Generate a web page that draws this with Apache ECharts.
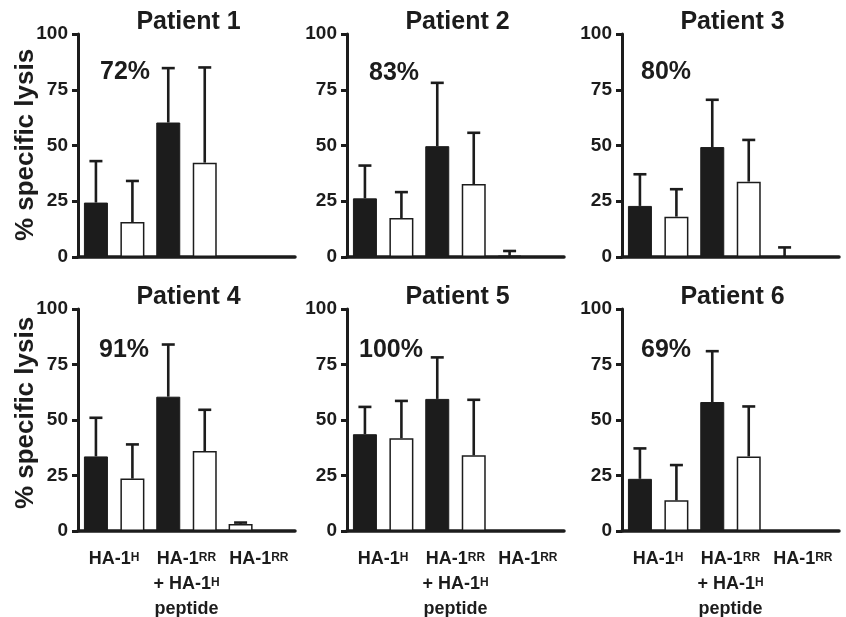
<!DOCTYPE html>
<html><head><meta charset="utf-8">
<script src="https://cdn.jsdelivr.net/npm/echarts@6/dist/echarts.min.js"></script>
<style>html,body{margin:0;padding:0;background:#fff}#c{width:846px;height:617px}</style>
</head><body><div id="c"></div>
<script>
// ---- data ----
const categories = ['HA-1^H', 'HA-1^RR\n+ HA-1^H\npeptide', 'HA-1^RR'];
const patients = ['Patient 1', 'Patient 2', 'Patient 3', 'Patient 4', 'Patient 5', 'Patient 6'];
const lysisPercents = ['72%', '83%', '80%', '91%', '100%', '69%'];
const yTickValues = [0, 25, 50, 75, 100];
const yAxisTitle = '% specific lysis';
// first bar of each pair (filled)
const filledMeans = [
  [24.4, 60.3, 0],
  [26.3, 49.7, 0.6],
  [22.9, 49.3, 0],
  [33.6, 60.5, 3.2],
  [43.6, 59.5, 0],
  [23.5, 58.1, 0]
];
const filledSD = [
  [18.6, 24.4, 0],
  [14.7, 28.4, 2.1],
  [14.2, 21.2, 4.3],
  [17.4, 23.5, 0.6],
  [12.3, 18.7, 0],
  [13.7, 22.9, 0]
];
// second bar of each pair (open)
const openMeans = [
  [15.7, 42.3, 0],
  [17.5, 32.7, 0],
  [18.1, 33.8, 0],
  [23.6, 36.0, 0],
  [41.8, 34.1, 0],
  [13.8, 33.6, 0]
];
const openSD = [
  [18.4, 42.7, 0],
  [11.6, 23.0, 0],
  [12.3, 18.7, 0],
  [15.4, 18.6, 0],
  [16.8, 25.0, 0],
  [15.9, 22.5, 0]
];

// ---- layout / style ----
const INK = '#1c1c1c';
const FONT = '"Liberation Sans", Arial, Helvetica, sans-serif';
const colLeft = [78, 347, 622];
const colWidth = 217;
const rowTop = [34, 309];
const rowHeight = [223, 222];
const BAR_W = 24;
const GAP_RATIO = 0.52;
const BAR_OFFSET = (BAR_W + BAR_W * GAP_RATIO) / 2;
const CAP = 13;
const pctPos = [[125, 72], [394, 73], [666, 72], [124, 350], [391, 350], [666, 350]];
const titleY = [22, 297];
const ylabelPos = [[26, 145], [26, 413]];

function labelRich(v) {
  return v.split('\n').map(line => {
    return line.split(/(\^\w+)/).filter(s => s.length).map(s =>
      s[0] === '^' ? '{s|' + s.slice(1) + '}' : '{m|' + s + '}').join('');
  }).join('\n');
}

const chart = echarts.init(document.getElementById('c'), null, {renderer: 'canvas'});
const grid = [], xAxis = [], yAxis = [], series = [], graphic = [];

function errRender(side) {
  return function (params, api) {
    const cat = api.value(0), m = api.value(1), sd = api.value(2);
    if (!(sd > 0)) return null;
    const b = api.coord([cat, m]);
    const t = api.coord([cat, m + sd]);
    const x = b[0] + side * BAR_OFFSET;
    return {
      type: 'group', children: [
        {type: 'line', shape: {x1: x, y1: b[1], x2: x, y2: t[1]}, style: {stroke: INK, lineWidth: 2.6}},
        {type: 'line', shape: {x1: x - CAP / 2, y1: t[1], x2: x + CAP / 2, y2: t[1]}, style: {stroke: INK, lineWidth: 2.6}}
      ]
    };
  };
}

patients.forEach((name, i) => {
  const col = i % 3, row = Math.floor(i / 3);
  grid.push({left: colLeft[col], top: rowTop[row], width: colWidth, height: rowHeight[row],
    containLabel: false, outerBoundsMode: 'none'});
  xAxis.push({
    type: 'category', gridIndex: i, data: categories,
    axisLine: {lineStyle: {color: INK, width: 3.5}},
    axisTick: {show: false},
    axisLabel: {
      show: row === 1, interval: 0, margin: 16, formatter: labelRich,
      rich: {
        m: {fontFamily: FONT, fontWeight: 'bold', fontSize: 18, color: INK, lineHeight: 25},
        s: {fontFamily: FONT, fontWeight: 'bold', fontSize: 12, color: INK, verticalAlign: 'top', lineHeight: 12, padding: [5, 0, 0, 0]}
      }
    },
    splitLine: {show: false}
  });
  yAxis.push({
    type: 'value', gridIndex: i, min: yTickValues[0], max: yTickValues[yTickValues.length - 1],
    interval: yTickValues[1] - yTickValues[0],
    axisLine: {show: true, lineStyle: {color: INK, width: 3}},
    axisTick: {show: true, length: 6, lineStyle: {color: INK, width: 3}},
    axisLabel: {fontFamily: FONT, fontWeight: 'bold', fontSize: 19, color: INK, margin: 10},
    splitLine: {show: false}
  });
  series.push({
    type: 'bar', xAxisIndex: i, yAxisIndex: i, barWidth: BAR_W, barGap: (GAP_RATIO * 100) + '%',
    data: filledMeans[i].map((v, k) => ({
      value: v,
      itemStyle: k === 2 ? {color: '#fff', borderColor: INK, borderWidth: 1.5} : {color: INK, borderColor: INK, borderWidth: 1}
    })),
    z: 2, silent: true
  });
  series.push({
    type: 'bar', xAxisIndex: i, yAxisIndex: i, barWidth: BAR_W, barGap: (GAP_RATIO * 100) + '%',
    data: openMeans[i],
    itemStyle: {color: '#fff', borderColor: INK, borderWidth: 1.5},
    z: 2, silent: true
  });
  series.push({
    type: 'custom', xAxisIndex: i, yAxisIndex: i, z: 3, silent: true,
    renderItem: errRender(-1), encode: {x: 0, y: 1},
    data: filledMeans[i].map((v, k) => [k, v, filledSD[i][k]])
  });
  series.push({
    type: 'custom', xAxisIndex: i, yAxisIndex: i, z: 3, silent: true,
    renderItem: errRender(1), encode: {x: 0, y: 1},
    data: openMeans[i].map((v, k) => [k, v, openSD[i][k]])
  });
  graphic.push({
    type: 'text', x: colLeft[col] + colWidth / 2 + 2, y: titleY[row],
    style: {text: name, font: 'bold 25px ' + FONT, fill: INK, align: 'center', verticalAlign: 'middle', textAlign: 'center', textVerticalAlign: 'middle'}
  });
  graphic.push({
    type: 'text', x: pctPos[i][0], y: pctPos[i][1],
    style: {text: lysisPercents[i], font: 'bold 25px ' + FONT, fill: INK, align: 'center', verticalAlign: 'middle', textAlign: 'center', textVerticalAlign: 'middle'}
  });
});
ylabelPos.forEach(p => {
  graphic.push({
    type: 'text', x: p[0], y: p[1], rotation: Math.PI / 2,
    style: {text: yAxisTitle, font: 'bold 26px ' + FONT, fill: INK, align: 'center', verticalAlign: 'middle', textAlign: 'center', textVerticalAlign: 'middle'}
  });
});

chart.setOption({animation: false, backgroundColor: '#fff', grid, xAxis, yAxis, series, graphic});
</script>
</body></html>
